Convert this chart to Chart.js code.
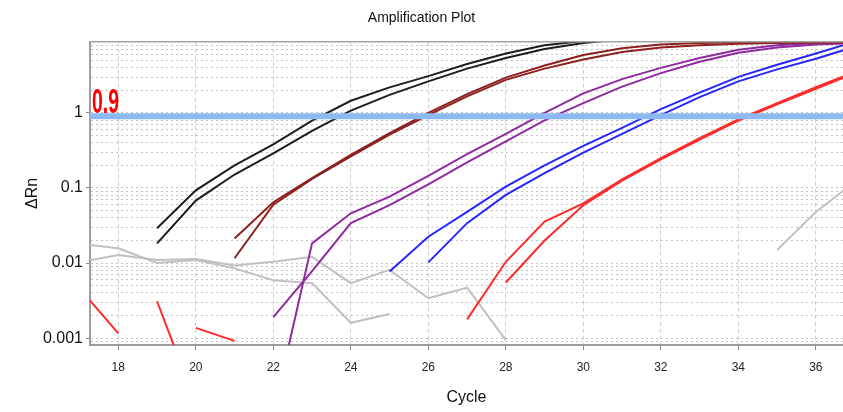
<!DOCTYPE html>
<html>
<head>
<meta charset="utf-8">
<title>Amplification Plot</title>
<script src="https://cdn.jsdelivr.net/npm/chart.js@4.4.1/dist/chart.umd.min.js"></script>
<style>
    html, body { margin: 0; padding: 0; background: #ffffff; }
    #wrap { width: 843px; height: 412px; }
</style>
</head>
<body>
<div id="wrap"><canvas id="ampChart" width="843" height="412"></canvas></div>
<script>
// data (delta Rn per cycle, null = no point / negative value)

var cycles = [17, 18, 19, 20, 21, 22, 23, 24, 25, 26, 27, 28, 29, 30, 31, 32, 33, 34, 35, 36, 37];

var black1  = [null, null, 0.029, 0.093, 0.20, 0.38, 0.79, 1.45, 2.19, 3.09, 4.47, 6.17, 7.94, 9.1, 9.8, 10.0, 10.2, 10.5, 10.7, 10.7, 11.0];
var black2  = [null, null, 0.0183, 0.068, 0.151, 0.288, 0.575, 1.07, 1.74, 2.63, 3.89, 5.37, 7.08, 8.51, 9.55, 10.0, 10.2, 10.3, 10.4, 10.5, 10.5];
var brown1  = [null, null, null, null, 0.0213, 0.0646, 0.135, 0.275, 0.537, 1.0, 1.78, 2.95, 4.27, 5.89, 7.24, 8.13, 8.51, 8.71, 8.81, 8.91, 8.91];
var brown2  = [null, null, null, null, 0.0116, 0.060, 0.132, 0.263, 0.513, 0.933, 1.66, 2.75, 3.89, 5.13, 6.46, 7.41, 7.94, 8.32, 8.51, 8.61, 8.71];
var purple1 = [null, null, null, null, null, 0.0001, 0.0183, 0.046, 0.0766, 0.145, 0.282, 0.525, 1.0, 1.82, 2.82, 3.98, 5.37, 6.92, 7.94, 8.51, 8.71];
var purple2 = [null, null, null, null, null, 0.0019, 0.0078, 0.034, 0.059, 0.112, 0.219, 0.417, 0.794, 1.35, 2.24, 3.39, 4.79, 6.31, 7.41, 8.13, 8.51];
var blue1   = [null, null, null, null, null, null, null, null, 0.0077, 0.0224, 0.048, 0.104, 0.20, 0.363, 0.631, 1.12, 1.86, 3.02, 4.37, 6.17, 8.91];
var blue2   = [null, null, null, null, null, null, null, null, null, 0.0102, 0.034, 0.081, 0.158, 0.295, 0.525, 0.933, 1.62, 2.63, 3.80, 5.25, 7.59];
var red1    = [0.0046, 0.00116, null, 0.00137, 0.00092, null, null, null, null, null, 0.00178, 0.0104, 0.0356, 0.0625, 0.13, 0.25, 0.46, 0.82, 1.35, 2.2, 3.5];
var red2    = [null, null, 0.0031, 0.000135, null, null, null, null, null, null, null, 0.0055, 0.020, 0.059, 0.125, 0.24, 0.44, 0.79, 1.3, 2.1, 3.35];
var gray1   = [0.018, 0.0157, 0.0100, 0.011, 0.0085, 0.0059, 0.0054, 0.0016, 0.0021, null, null, null, null, null, null, null, null, null, 0.0149, 0.048, 0.12];
var gray2   = [0.0103, 0.0128, 0.011, 0.0113, 0.0093, 0.0104, 0.0121, 0.0054, 0.0081, 0.0034, 0.0047, 0.00094, null, null, null, null, null, null, null, null, null];

var threshold = 0.9;

// axes

var xTicks = [18, 20, 22, 24, 26, 28, 30, 32, 34, 36];
var yDecades = [0.0001, 0.001, 0.01, 0.1, 1];
var yTickValues = [0.001, 0.01, 0.1, 1];
var yTickLabels = ["0.001", "0.01", "0.1", "1"];

var xMin = 17.27, xMax = 36.7;
var yMin = 0.00081, yMax = 8.85;

// utilities

function toPoints(values)
{
    var pts = [];
    for (var i = 0; i < cycles.length; i++) {
        pts.push({ x: cycles[i], y: values[i] });
    }
    return pts;
}

function curve(values, color, width)
{
    return {
        data: toPoints(values),
        borderColor: color,
        borderWidth: width,
        pointRadius: 0,
        tension: 0,
        spanGaps: false
    };
}

// threshold label + top frame line
var plotExtras = {
    id: "plotExtras",
    afterDatasetsDraw: function(chart) {
        var ctx = chart.ctx;
        var area = chart.chartArea;
        var y = chart.scales.y.getPixelForValue(threshold);

        ctx.save();
        ctx.strokeStyle = "#a3a3a3";
        ctx.lineWidth = 1.5;
        ctx.beginPath();
        ctx.moveTo(area.left, area.top);
        ctx.lineTo(area.right, area.top);
        ctx.stroke();

        ctx.fillStyle = "#ff0000";
        ctx.font = "bold 35px 'Liberation Sans Narrow', 'Liberation Sans', sans-serif";
        ctx.textBaseline = "alphabetic";
        var txt = String(threshold);
        var w = ctx.measureText(txt).width;
        ctx.translate(area.left + 2, y - 3);
        ctx.scale(27 / w, 1);
        ctx.fillText(txt, 0, 0);
        ctx.restore();
    }
};

var ampChart;

function loadCanvas()
{
    var ctx = document.getElementById("ampChart");

    var thresholdLine = {
        data: [{ x: 17, y: threshold }, { x: 37, y: threshold }],
        borderColor: "#8cb9f2",
        borderWidth: 6,
        pointRadius: 0,
        tension: 0
    };

    ampChart = new Chart(ctx.getContext("2d"), {
        type: "line",
        data: {
            datasets: [
                thresholdLine,
                curve(black1, "#1e1e1e", 2),
                curve(black2, "#1e1e1e", 2),
                curve(brown1, "#8e1f1f", 2),
                curve(brown2, "#8e1f1f", 2),
                curve(purple1, "#8f2aa0", 2),
                curve(purple2, "#8f2aa0", 2),
                curve(blue1, "#2626ff", 2),
                curve(blue2, "#2626ff", 2),
                curve(red1, "#ff2b2b", 2),
                curve(red2, "#ff2b2b", 2),
                curve(gray1, "#c0c0c0", 2),
                curve(gray2, "#c0c0c0", 2)
            ]
        },
        options: {
            responsive: false,
            animation: false,
            devicePixelRatio: 1,
            layout: { padding: 0 },
            plugins: {
                legend: { display: false },
                tooltip: { enabled: false },
                title: {
                    display: true,
                    text: "Amplification Plot",
                    color: "#111111",
                    font: { family: "'Liberation Sans', Arial, sans-serif", size: 14, weight: "normal" },
                    padding: { top: 10, bottom: 15 }
                }
            },
            scales: {
                x: {
                    type: "linear",
                    min: xMin,
                    max: xMax,
                    afterBuildTicks: function(scale) {
                        scale.ticks = xTicks.map(function(v) { return { value: v }; });
                    },
                    afterFit: function(scale) { scale.height = 67; },
                    ticks: {
                        color: "#222222",
                        padding: 10,
                        maxRotation: 0,
                        autoSkip: false,
                        font: { family: "'Liberation Sans Narrow', 'Liberation Sans', sans-serif", size: 12 }
                    },
                    grid: {
                        color: "#cfcfcf",
                        lineWidth: 1,
                        tickLength: 5,
                        tickColor: "#8a8a8a"
                    },
                    border: { color: "#9c9c9c", width: 2, dash: [4, 3] },
                    title: {
                        display: true,
                        text: "Cycle",
                        color: "#111111",
                        font: { family: "'Liberation Sans', Arial, sans-serif", size: 16 },
                        padding: { top: 0, bottom: 5 }
                    }
                },
                y: {
                    type: "logarithmic",
                    min: yMin,
                    max: yMax,
                    afterBuildTicks: function(scale) {
                        var list = [];
                        yDecades.forEach(function(d) {
                            for (var k = 1; k <= 9; k++) {
                                var v = d * k;
                                if (v >= scale.min && v <= scale.max) list.push({ value: v, major: k === 1 });
                            }
                        });
                        scale.ticks = list;
                    },
                    afterFit: function(scale) { scale.width = 90; },
                    ticks: {
                        color: "#111111",
                        padding: 3,
                        autoSkip: false,
                        font: { family: "'Liberation Sans', Arial, sans-serif", size: 16 },
                        callback: function(value) {
                            var i = yTickValues.indexOf(value);
                            return i >= 0 ? yTickLabels[i] : "";
                        }
                    },
                    grid: {
                        color: "#c4c4c4",
                        lineWidth: 1,
                        tickLength: 4,
                        tickColor: function(c) {
                            return (c.tick && c.tick.major) ? "#8a8a8a" : "rgba(0,0,0,0)";
                        }
                    },
                    border: { color: "#9c9c9c", width: 2, dash: [2, 3] },
                    title: {
                        display: true,
                        text: "\u0394Rn",
                        color: "#111111",
                        font: { family: "'Liberation Sans', Arial, sans-serif", size: 16 },
                        padding: { top: 23, bottom: 0 }
                    }
                }
            }
        },
        plugins: [plotExtras]
    });
}

loadCanvas();
</script>
</body>
</html>
